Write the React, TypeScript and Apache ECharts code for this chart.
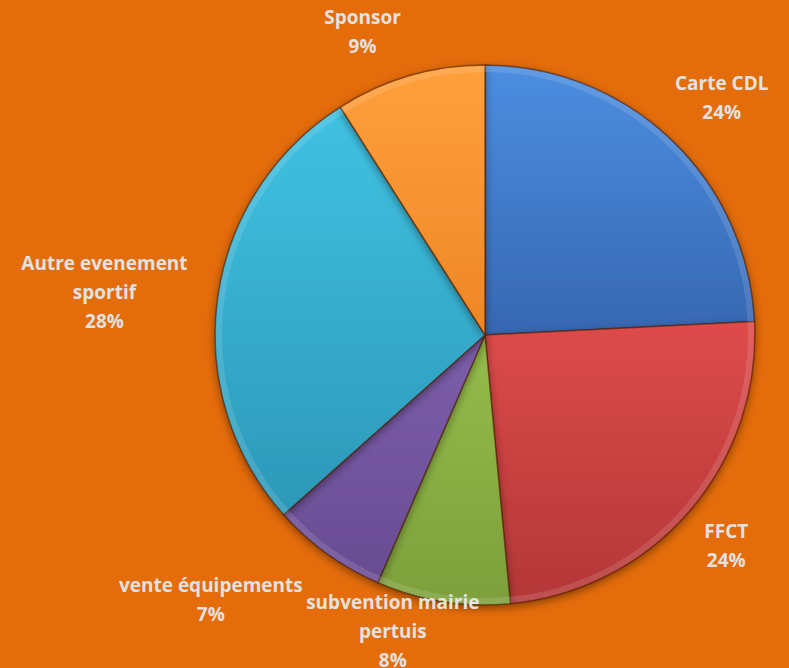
import React, { useEffect, useRef } from "react";
import * as echarts from "echarts";

const categories = [
  "Carte CDL",
  "FFCT",
  "subvention mairie\npertuis",
  "vente équipements",
  "Autre evenement\nsportif",
  "Sponsor",
];
const values = [24.2, 24.3, 8.0, 6.9, 27.6, 9.0];
const colorsTop = ["#4C8EE0", "#DE4B4B", "#95BC4A", "#7D5EAB", "#40C2E2", "#FFA03C"];
const colorsBottom = ["#3667B2", "#B33737", "#7DA03C", "#684C92", "#2C98B8", "#EE8626"];

// label placement: radial distance from center and angle nudge (degrees)
const labelDist = [335, 320, 310, 381, 383, 327];
const labelNudge = [1.4, 0.2, 8.3, 10.2, -1.4, -5.8];

const CX = 485;
const CY = 335;
const R = 270;

export default function App() {
  const ref = useRef<HTMLDivElement>(null);
  useEffect(() => {
    if (!ref.current) return;
    const chart = echarts.init(ref.current, null, { renderer: "svg" });
    const total = values.reduce((a, b) => a + b, 0);
    const mids: number[] = [];
    let acc = 0;
    values.forEach((v) => {
      mids.push(((acc + v / 2) / total) * 360);
      acc += v;
    });
    chart.setOption({
      animation: false,
      backgroundColor: "#E46C0A",
      series: [
        {
          type: "pie",
          center: [CX, CY],
          radius: [0, R],
          startAngle: 90,
          clockwise: true,
          avoidLabelOverlap: false,
          z: 1,
          data: categories.map((name, i) => ({
            name,
            value: values[i],
            itemStyle: {
              color: new echarts.graphic.LinearGradient(0, 0, 0, 1, [
                { offset: 0, color: colorsTop[i] },
                { offset: 1, color: colorsBottom[i] },
              ]),
            },
          })),
          itemStyle: {
            borderColor: "rgba(80,30,0,0.6)",
            borderWidth: 1.5,
            shadowColor: "rgba(0,0,0,0.4)",
            shadowBlur: 8,
            shadowOffsetY: 3,
          },
          label: {
            show: true,
            position: "outside",
            formatter: (p: any) => `${p.name}\n${Math.round(p.percent)}%`,
            color: "#E2E2E2",
            fontFamily: "Open Sans",
            fontWeight: "bold",
            fontSize: 19,
            lineHeight: 29,
            align: "center",
          },
          labelLine: { show: false },
          labelLayout: (p: any) => {
            const i = p.dataIndex;
            const a = ((mids[i] + labelNudge[i]) * Math.PI) / 180;
            return {
              x: CX + labelDist[i] * Math.sin(a),
              y: CY - labelDist[i] * Math.cos(a),
              align: "center",
              verticalAlign: "middle",
              hideOverlap: false,
            };
          },
        },
        {
          type: "pie",
          center: [CX, CY],
          radius: [R - 7, R - 1],
          startAngle: 90,
          clockwise: true,
          silent: true,
          z: 2,
          label: { show: false },
          labelLine: { show: false },
          data: categories.map((name, i) => ({
            name,
            value: values[i],
            itemStyle: { color: "rgba(255,255,255,0.12)" },
          })),
          itemStyle: { borderWidth: 0 },
        },
      ],
    });
    return () => chart.dispose();
  }, []);
  return (
    <div
      ref={ref}
      style={{ position: "fixed", left: 0, top: 0, width: 789, height: 668 }}
    />
  );
}
